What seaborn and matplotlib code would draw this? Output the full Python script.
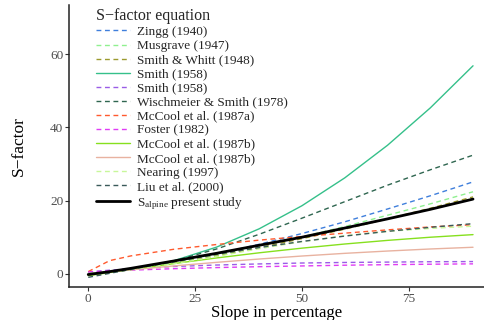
import numpy as np
import pandas as pd
import matplotlib
matplotlib.use("Agg")
import matplotlib.pyplot as plt
import seaborn as sns

slope = [0, 5, 10, 20, 30, 40, 50, 60, 70, 80, 90]

zingg = [0.0, 0.44, 1.16, 3.06, 5.40, 8.07, 11.0, 14.2, 17.7, 21.3, 25.1]
musgrave = [0.0, 0.45, 1.15, 2.94, 5.08, 7.49, 10.1, 12.9, 16.0, 19.1, 22.4]
smith_whitt = [0.03, 0.47, 1.15, 2.85, 4.87, 7.14, 9.6, 12.2, 15.0, 17.9, 21.0]
smith_a = [0.07, 0.45, 1.17, 3.57, 7.28, 12.3, 18.6, 26.2, 35.1, 45.3, 56.8]
smith_b = [0.5, 1.0, 1.4, 2.0, 2.4, 2.7, 2.95, 3.1, 3.2, 3.3, 3.35]
wischmeier = [0.07, 0.46, 1.17, 3.48, 6.78, 10.8, 15.2, 19.7, 24.2, 28.4, 32.4]
mccool_a = [0.6, 3.6, 4.9, 6.7, 8.0, 9.2, 10.2, 11.1, 12.0, 12.8, 13.4]
foster = [0.5, 0.8, 1.0, 1.4, 1.7, 1.95, 2.15, 2.35, 2.5, 2.62, 2.72]
mccool_b1 = [-0.5, 0.34, 1.17, 2.79, 4.33, 5.74, 7.01, 8.14, 9.13, 9.99, 10.7]
mccool_b2 = [0.03, 0.57, 1.10, 2.15, 3.13, 4.04, 4.86, 5.59, 6.22, 6.78, 7.25]
nearing = [0.05, 0.54, 1.14, 2.73, 4.73, 6.85, 8.79, 10.4, 11.6, 12.4, 13.0]
liu = [-0.96, 0.13, 1.22, 3.34, 5.34, 7.18, 8.84, 10.3, 11.6, 12.7, 13.7]
alpine = [-0.2, 0.6, 1.5, 3.5, 5.6, 7.8, 10.0, 12.5, 15.0, 17.6, 20.4]

labels = ["Zingg (1940)", "Musgrave (1947)", "Smith & Whitt (1948)",
          "Smith (1958)", "Smith (1958)", "Wischmeier & Smith (1978)",
          "McCool et al. (1987a)", "Foster (1982)", "McCool et al. (1987b)",
          "McCool et al. (1987b)", "Nearing (1997)", "Liu et al. (2000)",
          "S$_{\\mathrm{alpine}}$ present study"]
series = [zingg, musgrave, smith_whitt, smith_a, smith_b, wischmeier,
          mccool_a, foster, mccool_b1, mccool_b2, nearing, liu, alpine]
colors = ["#3f7fdc", "#8ff08f", "#9c9a2e", "#35c08a", "#9a5ce6", "#2f6650",
          "#ff5a2e", "#e03cf5", "#86e01e", "#e8b2a0", "#c8f79a", "#3a5a5a",
          "black"]
dashed = [True, True, True, False, True, True,
          True, True, False, False, True, True, False]

# set up the plot #
sns.set_theme(style="white")
plt.rcParams["font.family"] = ["Liberation Serif", "DejaVu Serif"]
plt.rcParams["mathtext.fontset"] = "custom"
plt.rcParams["mathtext.rm"] = "Liberation Serif"
plt.rcParams["mathtext.it"] = "Liberation Serif:italic"

fig = plt.figure(figsize=(4.85, 3.2), dpi=100)
ax = fig.add_axes([69 / 485, 1 - 287 / 320, 1 - 69 / 485, (287 - 5) / 320])

# black line first so the others sit on top of it #
order = [12] + list(range(12))
for i in order:
    df = pd.DataFrame({"slope": slope, "S": series[i]})
    ls = (0, (3.5, 2.6)) if dashed[i] else "-"
    lw = 2.0 if i == 12 else 1.0
    sns.lineplot(data=df, x="slope", y="S", ax=ax, color=colors[i],
                 linestyle=ls, linewidth=lw, label=labels[i], zorder=2 + i)

# legend in the original order #
lines = ax.get_lines()
line_by_idx = dict(zip(order, lines))
leg = ax.legend([line_by_idx[i] for i in range(13)], labels,
                title="S\u2212factor equation", loc="upper left",
                bbox_to_anchor=(96 / 485, 1 - 8 / 320),
                bbox_transform=fig.transFigure, frameon=False,
                fontsize=9.5, title_fontsize=11.5, labelspacing=0.14,
                handlelength=2.6, handletextpad=0.5, borderpad=0,
                borderaxespad=0, alignment="left")

# configure axes #
ax.set_xlim(-4.5, 92.8)
ax.set_ylim(-3.6, 73.4)
ax.set_xticks([0, 25, 50, 75])
ax.set_yticks([0, 20, 40, 60])
ax.set_xlabel("Slope in percentage", fontsize=12, color="black", labelpad=0)
ax.set_ylabel("S\u2212factor", fontsize=12.5, color="black", labelpad=17)
ax.tick_params(axis="both", which="both", bottom=True, left=True, length=3,
               width=0.8, color="#333333", labelsize=9.5, labelcolor="#4d4d4d",
               pad=1)
sns.despine(ax=ax, top=True, right=True)
for s in ["left", "bottom"]:
    ax.spines[s].set_color("#222222")
    ax.spines[s].set_linewidth(1.1)

plt.savefig("out.png", dpi=100)
